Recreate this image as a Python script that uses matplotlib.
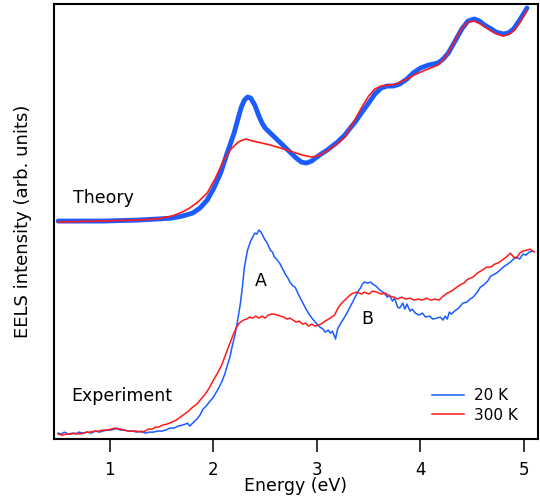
import numpy as np
import matplotlib
matplotlib.use("Agg")
import matplotlib.pyplot as plt

# === Data (intensity in arb. units) ===
# Theory, 20 K
th_e_20 = [0.50, 0.93, 1.27, 1.45, 1.60, 1.70, 1.80, 1.87, 1.94, 2.00, 2.07, 2.13,
           2.20, 2.24, 2.27, 2.30, 2.33, 2.36, 2.40, 2.44, 2.47, 2.50, 2.55, 2.60,
           2.64, 2.69, 2.74, 2.80, 2.85, 2.90, 2.95, 3.00, 3.04, 3.10, 3.15, 3.20,
           3.27, 3.33, 3.37, 3.43, 3.50, 3.56, 3.62, 3.68, 3.74, 3.80, 3.87, 3.93,
           4.00, 4.08, 4.17, 4.22, 4.27, 4.33, 4.40, 4.46, 4.52, 4.57, 4.62, 4.67,
           4.73, 4.80, 4.85, 4.90, 4.96, 5.03]
th_i_20 = [2.18, 2.18, 2.19, 2.20, 2.21, 2.23, 2.26, 2.31, 2.39, 2.50, 2.66, 2.85,
           3.06, 3.21, 3.32, 3.39, 3.42, 3.41, 3.34, 3.23, 3.16, 3.11, 3.06, 3.01,
           2.97, 2.92, 2.87, 2.81, 2.77, 2.76, 2.78, 2.82, 2.85, 2.89, 2.93, 2.97,
           3.04, 3.12, 3.17, 3.26, 3.36, 3.45, 3.51, 3.53, 3.53, 3.55, 3.60, 3.66,
           3.71, 3.74, 3.76, 3.80, 3.86, 3.97, 4.10, 4.18, 4.20, 4.18, 4.14, 4.11,
           4.07, 4.05, 4.06, 4.10, 4.19, 4.31]

# Theory, 300 K
th_e_300 = [0.50, 1.27, 1.45, 1.60, 1.70, 1.77, 1.85, 1.94, 2.02, 2.10, 2.17, 2.24,
            2.28, 2.32, 2.38, 2.47, 2.55, 2.65, 2.77, 2.86, 2.95, 3.03, 3.11, 3.19,
            3.27, 3.35, 3.43, 3.50, 3.56, 3.62, 3.70, 3.77, 3.85, 3.94, 4.05, 4.17,
            4.22, 4.27, 4.33, 4.40, 4.46, 4.52, 4.58, 4.67, 4.74, 4.80, 4.86, 4.91,
            4.97, 5.03]
th_i_300 = [2.17, 2.19, 2.20, 2.23, 2.27, 2.31, 2.37, 2.46, 2.61, 2.79, 2.90, 2.97,
            2.99, 3.00, 2.98, 2.96, 2.94, 2.91, 2.87, 2.84, 2.82, 2.84, 2.89, 2.95,
            3.02, 3.16, 3.31, 3.43, 3.50, 3.53, 3.54, 3.55, 3.59, 3.64, 3.69, 3.74,
            3.79, 3.86, 3.98, 4.11, 4.17, 4.18, 4.15, 4.09, 4.05, 4.03, 4.05, 4.09,
            4.18, 4.29]

# Experiment, 20 K
ex_e_20 = [0.50, 0.53, 0.56, 0.60, 0.64, 0.67, 0.70, 0.74, 0.78, 0.82, 0.86, 0.90,
           0.93, 0.97, 1.01, 1.04, 1.07, 1.10, 1.14, 1.18, 1.22, 1.26, 1.30, 1.34,
           1.38, 1.42, 1.46, 1.50, 1.54, 1.58, 1.62, 1.66, 1.70, 1.73, 1.75, 1.77,
           1.80, 1.84, 1.87, 1.90, 1.93, 1.96, 2.00, 2.04, 2.08, 2.11, 2.13, 2.16,
           2.18, 2.21, 2.23, 2.26, 2.28, 2.30, 2.33, 2.36, 2.38, 2.40, 2.42, 2.44,
           2.46, 2.48, 2.50, 2.52, 2.55, 2.57, 2.59, 2.61, 2.64, 2.67, 2.70, 2.72,
           2.74, 2.77, 2.79, 2.82, 2.86, 2.89, 2.93, 2.96, 3.00, 3.03, 3.06, 3.08,
           3.11, 3.13, 3.15, 3.17, 3.18, 3.20, 3.22, 3.25, 3.28, 3.32, 3.36, 3.40,
           3.42, 3.44, 3.46, 3.49, 3.52, 3.54, 3.57, 3.59, 3.62, 3.65, 3.68, 3.70,
           3.73, 3.75, 3.78, 3.80, 3.83, 3.85, 3.87, 3.90, 3.92, 3.95, 3.99, 4.02,
           4.05, 4.09, 4.12, 4.16, 4.19, 4.22, 4.24, 4.26, 4.28, 4.30, 4.33, 4.37,
           4.41, 4.45, 4.48, 4.51, 4.55, 4.58, 4.61, 4.65, 4.68, 4.72, 4.76, 4.80,
           4.83, 4.87, 4.90, 4.93, 4.96, 4.99, 5.02, 5.05, 5.09]
ex_i_20 = [0.06, 0.05, 0.07, 0.05, 0.06, 0.05, 0.07, 0.06, 0.07, 0.06, 0.08, 0.07,
           0.08, 0.09, 0.09, 0.10, 0.11, 0.09, 0.09, 0.08, 0.08, 0.07, 0.08, 0.06,
           0.07, 0.07, 0.08, 0.08, 0.09, 0.11, 0.11, 0.13, 0.14, 0.15, 0.16, 0.13,
           0.16, 0.20, 0.24, 0.30, 0.33, 0.37, 0.42, 0.49, 0.57, 0.65, 0.72, 0.82,
           0.92, 1.05, 1.16, 1.35, 1.52, 1.72, 1.89, 1.98, 2.02, 2.06, 2.05, 2.09,
           2.07, 2.03, 1.99, 1.96, 1.89, 1.87, 1.82, 1.80, 1.76, 1.70, 1.64, 1.61,
           1.57, 1.53, 1.52, 1.45, 1.37, 1.31, 1.24, 1.20, 1.15, 1.12, 1.10, 1.07,
           1.09, 1.06, 1.08, 1.03, 1.00, 1.10, 1.14, 1.19, 1.24, 1.32, 1.40, 1.48,
           1.51, 1.55, 1.57, 1.56, 1.57, 1.55, 1.53, 1.51, 1.48, 1.46, 1.42, 1.44,
           1.38, 1.41, 1.32, 1.31, 1.36, 1.30, 1.35, 1.28, 1.30, 1.26, 1.24, 1.26,
           1.22, 1.23, 1.20, 1.21, 1.22, 1.19, 1.23, 1.20, 1.27, 1.25, 1.28, 1.31,
           1.36, 1.37, 1.40, 1.42, 1.47, 1.52, 1.54, 1.58, 1.63, 1.65, 1.68, 1.72,
           1.74, 1.77, 1.80, 1.82, 1.80, 1.85, 1.84, 1.87, 1.88]

# Experiment, 300 K
ex_e_300 = [0.50, 0.54, 0.58, 0.62, 0.66, 0.70, 0.74, 0.78, 0.81, 0.85, 0.89, 0.93,
            0.97, 1.01, 1.05, 1.07, 1.10, 1.14, 1.18, 1.22, 1.26, 1.30, 1.34, 1.37,
            1.41, 1.44, 1.47, 1.51, 1.55, 1.60, 1.64, 1.68, 1.72, 1.76, 1.80, 1.84,
            1.88, 1.92, 1.96, 2.00, 2.04, 2.08, 2.12, 2.16, 2.19, 2.22, 2.25, 2.29,
            2.32, 2.35, 2.38, 2.41, 2.44, 2.47, 2.50, 2.53, 2.56, 2.59, 2.62, 2.65,
            2.68, 2.71, 2.74, 2.77, 2.80, 2.83, 2.86, 2.89, 2.92, 2.95, 2.98, 3.01,
            3.04, 3.08, 3.13, 3.17, 3.21, 3.24, 3.28, 3.32, 3.35, 3.39, 3.43, 3.46,
            3.50, 3.54, 3.58, 3.62, 3.66, 3.70, 3.74, 3.78, 3.82, 3.86, 3.90, 3.94,
            3.98, 4.02, 4.06, 4.10, 4.14, 4.18, 4.22, 4.26, 4.30, 4.34, 4.38, 4.42,
            4.46, 4.51, 4.55, 4.60, 4.64, 4.68, 4.72, 4.75, 4.79, 4.83, 4.87, 4.90,
            4.93, 4.96, 4.99, 5.03, 5.06, 5.10]
ex_i_300 = [0.05, 0.04, 0.05, 0.05, 0.06, 0.05, 0.06, 0.07, 0.07, 0.08, 0.08, 0.09,
            0.09, 0.10, 0.11, 0.10, 0.10, 0.09, 0.08, 0.08, 0.08, 0.07, 0.08, 0.10,
            0.10, 0.12, 0.12, 0.14, 0.15, 0.17, 0.19, 0.22, 0.25, 0.28, 0.32, 0.35,
            0.40, 0.45, 0.51, 0.59, 0.66, 0.74, 0.85, 0.96, 1.04, 1.11, 1.16, 1.19,
            1.20, 1.22, 1.21, 1.23, 1.21, 1.23, 1.21, 1.24, 1.25, 1.25, 1.24, 1.23,
            1.22, 1.20, 1.21, 1.19, 1.17, 1.18, 1.15, 1.16, 1.13, 1.15, 1.13, 1.14,
            1.15, 1.18, 1.21, 1.24, 1.32, 1.36, 1.40, 1.44, 1.46, 1.47, 1.45, 1.47,
            1.45, 1.48, 1.47, 1.45, 1.46, 1.43, 1.42, 1.40, 1.42, 1.40, 1.41, 1.39,
            1.40, 1.39, 1.41, 1.39, 1.40, 1.39, 1.43, 1.46, 1.48, 1.51, 1.54, 1.56,
            1.60, 1.62, 1.66, 1.69, 1.72, 1.72, 1.75, 1.76, 1.79, 1.82, 1.86, 1.82,
            1.81, 1.86, 1.88, 1.89, 1.90, 1.87]

x_ticks = [1, 2, 3, 4, 5]

blue = "#1a5cff"
red = "#ff1a1a"

# === Figure ===
fig = plt.figure(figsize=(5.4, 5.03), dpi=100)
ax = fig.add_axes([0.10, 0.127, 0.896, 0.865])

ax.plot(th_e_20, th_i_20, color=blue, lw=3.5, solid_capstyle="round",
        solid_joinstyle="round")
ax.plot(th_e_300, th_i_300, color=red, lw=1.2, solid_joinstyle="round")
ax.plot(ex_e_20, ex_i_20, color=blue, lw=1.1, label="20 K")
ax.plot(ex_e_300, ex_i_300, color=red, lw=1.1, label="300 K")

ax.text(0.64, 2.41, "Theory", fontsize=12.5, va="center", ha="left")
ax.text(0.63, 0.43, "Experiment", fontsize=12.5, va="center", ha="left")
ax.text(2.46, 1.58, "A", fontsize=12.5, va="center", ha="center")
ax.text(3.49, 1.20, "B", fontsize=12.5, va="center", ha="center")

ax.set_xlim(0.46, 5.135)
ax.set_ylim(0, 4.35)
ax.set_xticks(x_ticks)
ax.set_yticks([])
ax.tick_params(axis="x", direction="out", length=9.5, width=1.1, labelsize=12, pad=6)

for sp in ax.spines.values():
    sp.set_linewidth(1.5)

ax.set_xlabel("Energy (eV)", fontsize=12.5)
ax.xaxis.set_label_coords(0.5, -0.088)
ax.set_ylabel("EELS intensity (arb. units)", fontsize=13)
ax.yaxis.set_label_coords(-0.045, 0.5)

ax.legend(loc="lower right", bbox_to_anchor=(0.958, 0.038), frameon=False,
          fontsize=11, handlelength=2.15, handletextpad=0.6, labelspacing=0.3,
          borderpad=0, borderaxespad=0)

plt.savefig("out.png", dpi=100)
